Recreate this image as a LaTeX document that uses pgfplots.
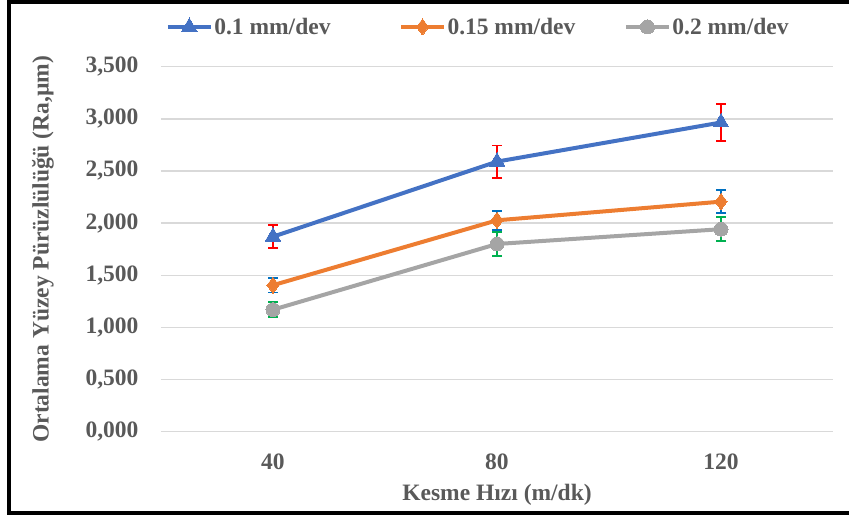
\documentclass[border=0pt]{standalone}
\usepackage{fontspec}
\setmainfont{Liberation Serif}
\usepackage{pgfplots}
\pgfplotsset{compat=1.18}
\definecolor{cblue}{HTML}{4472C4}
\definecolor{corange}{HTML}{ED7D31}
\definecolor{cgray}{HTML}{A5A5A5}
\definecolor{txt}{HTML}{595959}
\definecolor{grid}{HTML}{D9D9D9}
\definecolor{ebblue}{HTML}{0070C0}
\definecolor{ebgreen}{HTML}{00B050}
\newcommand{\lf}{\fontsize{23.5}{28}\selectfont\bfseries}
\begin{document}
\begin{tikzpicture}
\useasboundingbox (-161pt,-83.3pt) rectangle (688pt,431.7pt);
\begin{axis}[
  at={(0,0)}, anchor=south west,
  scale only axis, width=672pt, height=365pt,
  xmin=-0.5, xmax=2.5, ymin=0, ymax=3.5,
  xtick={0,1,2}, xticklabels={40,80,120},
  ytick={0,0.5,1,1.5,2,2.5,3,3.5},
  axis line style={draw=none},
  major tick length=0pt,
  ymajorgrids, grid style={draw=grid, line width=1.5pt},
  /pgf/number format/.cd, fixed, fixed zerofill, precision=3, use comma, assume math mode=true,
  /pgfplots/.cd,
  ticklabel style={font=\lf, text=txt},
  yticklabel style={xshift=-19pt},
  xticklabel style={yshift=-19pt},
  xlabel={Kesme Hızı (m/dk)},
  ylabel={Ortalama Yüzey Pürüzlülüğü (Ra,µm)},
  xlabel style={at={(axis description cs:0.5,-0.172)}, anchor=center, font=\lf, text=txt},
  ylabel style={at={(axis description cs:-0.1756,0.5)}, anchor=center, font=\lf, text=txt},
  legend columns=3,
  legend style={at={(axis description cs:0.4717,1.1088)}, anchor=center, draw=none, fill=none,
    font=\lf, text=txt, inner sep=0pt,
    nodes={inner sep=1.5pt},
    /tikz/every even column/.append style={column sep=47pt}},
  legend cell align=left,
  legend image code/.code={\draw[mark repeat=2,mark phase=2,#1] plot coordinates {(0pt,0pt) (21.5pt,0pt) (43pt,0pt)};},
]
% error bars first
\addplot[forget plot, draw=none, mark=none, error bars/.cd, y dir=both, y explicit,
  error bar style={draw=red, line width=1.8pt},
  error mark options={rotate=90, draw=red, line width=1.8pt, mark size=5pt}]
  coordinates {(0,1.87) +- (0,0.11) (1,2.59) +- (0,0.155) (2,2.965) +- (0,0.18)};
\addplot[forget plot, draw=none, mark=none, error bars/.cd, y dir=both, y explicit,
  error bar style={draw=ebblue, line width=1.8pt},
  error mark options={rotate=90, draw=ebblue, line width=1.8pt, mark size=5pt}]
  coordinates {(0,1.405) +- (0,0.07) (1,2.027) +- (0,0.093) (2,2.206) +- (0,0.109)};
\addplot[forget plot, draw=none, mark=none, error bars/.cd, y dir=both, y explicit,
  error bar style={draw=ebgreen, line width=1.8pt},
  error mark options={rotate=90, draw=ebgreen, line width=1.8pt, mark size=5pt}]
  coordinates {(0,1.17) +- (0,0.07) (1,1.80) +- (0,0.115) (2,1.942) +- (0,0.117)};
% lines
\addplot[cblue, line width=4pt, mark=triangle*, mark size=9pt, mark options={line width=0pt, fill=cblue}]
  coordinates {(0,1.87) (1,2.59) (2,2.965)};
\addlegendentry{0.1 mm/dev\hspace*{20pt}}
\addplot[corange, line width=4pt, mark=diamond*, mark size=8pt, mark options={line width=0pt, fill=corange}]
  coordinates {(0,1.405) (1,2.027) (2,2.206)};
\addlegendentry{0.15 mm/dev}
\addplot[cgray, line width=4pt, mark=*, mark size=7pt, mark options={line width=0pt, fill=cgray}]
  coordinates {(0,1.17) (1,1.80) (2,1.942)};
\addlegendentry{0.2 mm/dev}
\end{axis}
\draw[line width=4pt, black] (700pt,429.7pt) -- (-152pt,429.7pt) -- (-152pt,-80.8pt) -- (700pt,-80.8pt);
\end{tikzpicture}
\end{document}
